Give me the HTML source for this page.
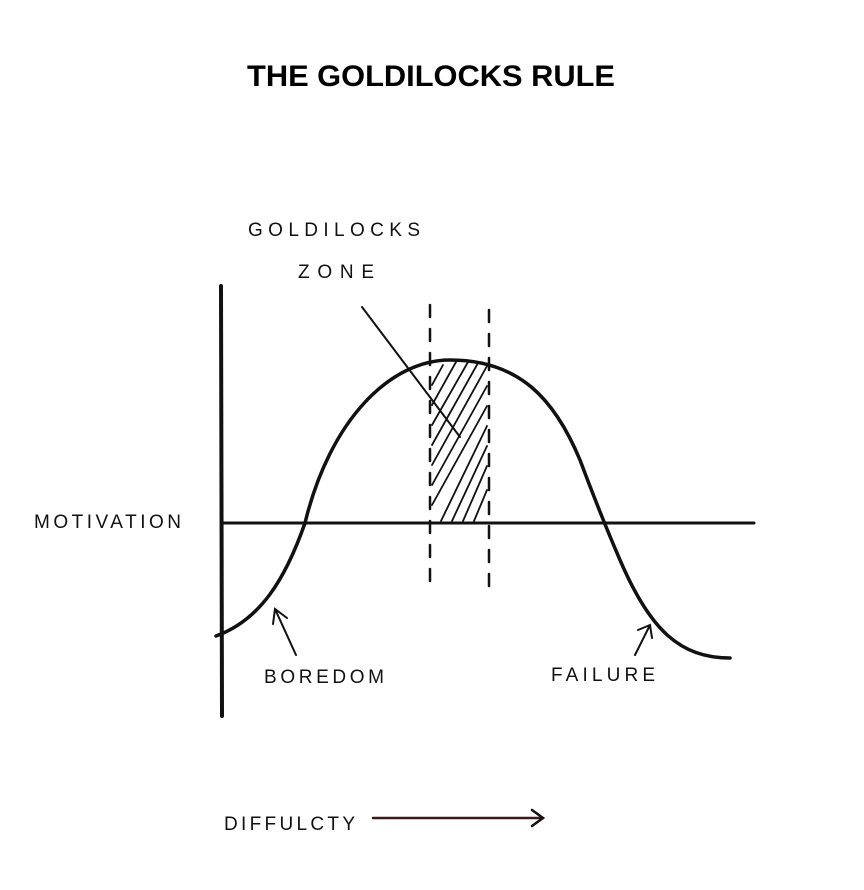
<!DOCTYPE html>
<html><head><meta charset="utf-8"><style>
html,body{margin:0;padding:0;background:#fff;}
svg{display:block}
.h{font-family:"Liberation Sans",sans-serif;font-size:19px;fill:#111}
</style></head><body>
<svg width="864" height="890" viewBox="0 0 864 890" xmlns="http://www.w3.org/2000/svg">
<rect width="864" height="890" fill="#fff"/>
<text x="431" y="86" text-anchor="middle" font-family="Liberation Sans, sans-serif" font-weight="bold" font-size="30" fill="#000" textLength="368" lengthAdjust="spacingAndGlyphs">THE GOLDILOCKS RULE</text>
<g stroke="#111" fill="none" stroke-linecap="round">
<line x1="221" y1="286" x2="222" y2="716" stroke-width="4"/>
<line x1="221" y1="523" x2="754" y2="523" stroke-width="3"/>
<path d="M216,636 C260,620 285,580 305,523 C330,420 390,360 450,360 C520,360 555,400 580,460 C595,500 604,523 620,560 C650,630 680,658 730,658" stroke-width="3.5"/>
<line x1="430" y1="305" x2="430" y2="590" stroke-width="2.5" stroke-dasharray="12,12"/>
<line x1="489" y1="310" x2="489" y2="590" stroke-width="2.5" stroke-dasharray="12,12"/>
<g stroke-width="1.8">
<line x1="432" y1="385" x2="443" y2="365"/>
<line x1="432" y1="405" x2="456" y2="362"/>
<line x1="432" y1="425" x2="468" y2="362"/>
<line x1="432" y1="445" x2="478" y2="363"/>
<line x1="432" y1="465" x2="487" y2="366"/>
<line x1="432" y1="485" x2="487" y2="386"/>
<line x1="432" y1="505" x2="487" y2="406"/>
<line x1="441" y1="521" x2="487" y2="426"/>
<line x1="452" y1="521" x2="487" y2="446"/>
<line x1="463" y1="521" x2="487" y2="466"/>
<line x1="474" y1="521" x2="487" y2="490"/>
</g>
<line x1="362" y1="307" x2="460" y2="437" stroke-width="2"/>
<path d="M296,655 L275,609 M273,624 L275,609 L287,618" stroke-width="2"/>
<path d="M635,655 L650,625 M638,630 L650,625 L652,638" stroke-width="2"/>
<line x1="373" y1="818" x2="543" y2="818" stroke-width="2.5" stroke="#3a1a1a"/>
<path d="M532,810 L543,818 L532,826" stroke-width="2.5"/>
</g>
<text class="h" x="248" y="236" textLength="172">GOLDILOCKS</text>
<text class="h" x="298" y="278" textLength="76">ZONE</text>
<text class="h" x="34" y="528" textLength="147">MOTIVATION</text>
<text class="h" x="264" y="683" textLength="120">BOREDOM</text>
<text class="h" x="551" y="681" textLength="104">FAILURE</text>
<text class="h" x="224" y="830" textLength="131">DIFFULCTY</text>
</svg>
</body></html>
